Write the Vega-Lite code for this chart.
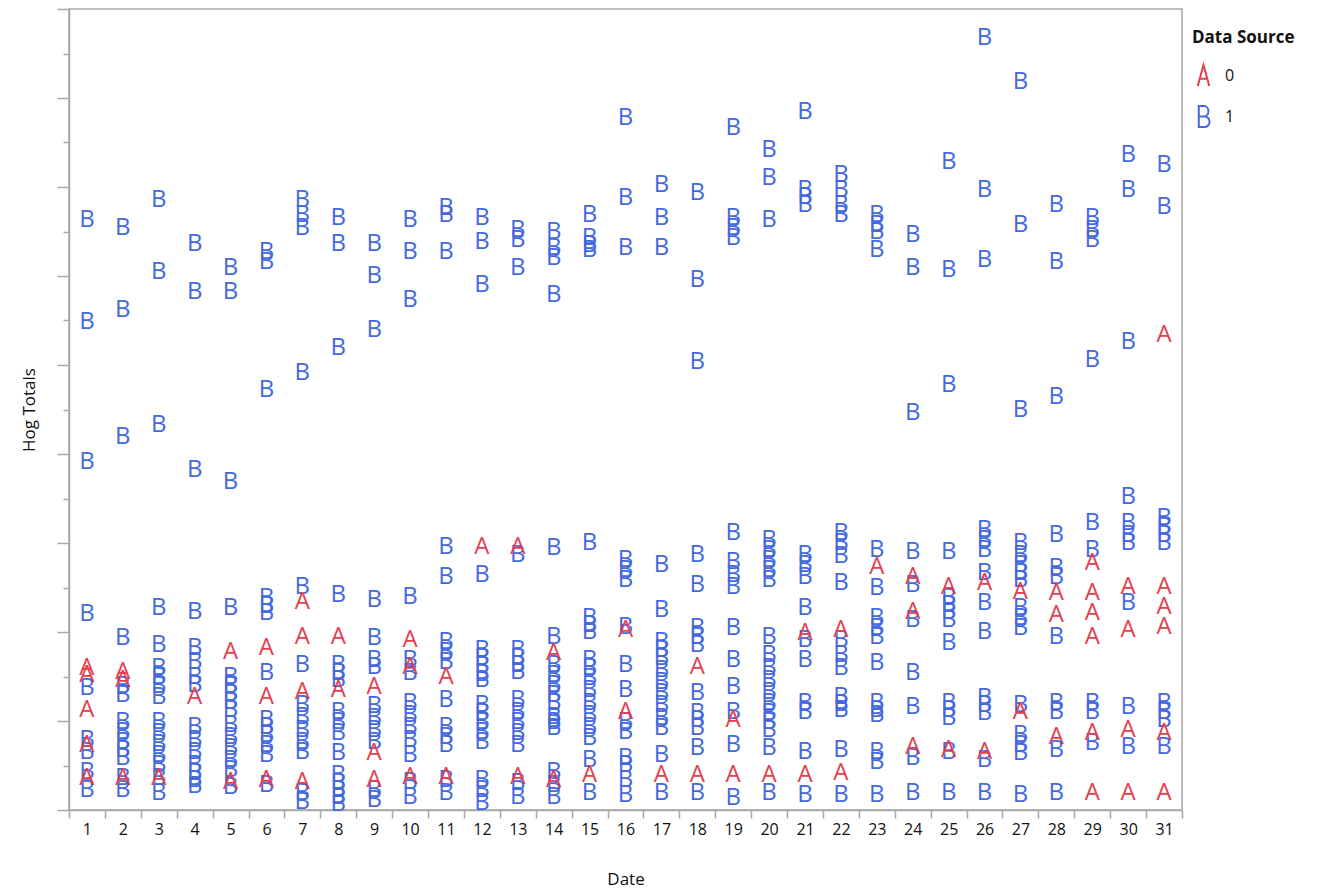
{
  "$schema": "https://vega.github.io/schema/vega-lite/v6.json",
  "width": 1113,
  "height": 801,
  "autosize": {"type": "none"},
  "padding": {"left": 69, "top": 9, "right": 160, "bottom": 80},
  "background": "white",
  "config": {
    "view": {"stroke": "#A8A8A8", "strokeWidth": 1.5},
    "axis": {"domainColor": "#A8A8A8", "domainWidth": 1.5, "tickColor": "#A8A8A8", "tickWidth": 1.5, "grid": false, "labelFont": "Open Sans", "titleFont": "Open Sans", "labelColor": "#111111", "titleColor": "#111111", "titleFontWeight": "normal"}
  },
  "data": {"values": [
    {"d":1,"s":1,"h":590},{"d":1,"s":1,"h":488},{"d":1,"s":1,"h":348},{"d":1,"s":1,"h":196},{"d":1,"s":1,"h":122},{"d":1,"s":1,"h":70},{"d":1,"s":1,"h":58},{"d":1,"s":1,"h":38},{"d":1,"s":1,"h":20},
    {"d":1,"s":0,"h":142},{"d":1,"s":0,"h":135},{"d":1,"s":0,"h":100},{"d":1,"s":0,"h":65},{"d":1,"s":0,"h":32},
    {"d":2,"s":1,"h":582},{"d":2,"s":1,"h":500},{"d":2,"s":1,"h":373},{"d":2,"s":1,"h":172},{"d":2,"s":1,"h":124},{"d":2,"s":1,"h":115},{"d":2,"s":1,"h":88},{"d":2,"s":1,"h":78},{"d":2,"s":1,"h":68},{"d":2,"s":1,"h":60},{"d":2,"s":1,"h":52},{"d":2,"s":1,"h":32},{"d":2,"s":1,"h":20},
    {"d":2,"s":0,"h":138},{"d":2,"s":0,"h":130},{"d":2,"s":0,"h":32},
    {"d":3,"s":1,"h":610},{"d":3,"s":1,"h":538},{"d":3,"s":1,"h":385},{"d":3,"s":1,"h":202},{"d":3,"s":1,"h":165},{"d":3,"s":1,"h":142},{"d":3,"s":1,"h":133},{"d":3,"s":1,"h":124},{"d":3,"s":1,"h":113},{"d":3,"s":1,"h":88},{"d":3,"s":1,"h":77},{"d":3,"s":1,"h":66},{"d":3,"s":1,"h":55},{"d":3,"s":1,"h":45},{"d":3,"s":1,"h":32},{"d":3,"s":1,"h":17},
    {"d":3,"s":0,"h":32},
    {"d":4,"s":1,"h":566},{"d":4,"s":1,"h":518},{"d":4,"s":1,"h":340},{"d":4,"s":1,"h":198},{"d":4,"s":1,"h":162},{"d":4,"s":1,"h":148},{"d":4,"s":1,"h":133},{"d":4,"s":1,"h":125},{"d":4,"s":1,"h":83},{"d":4,"s":1,"h":70},{"d":4,"s":1,"h":58},{"d":4,"s":1,"h":45},{"d":4,"s":1,"h":37},{"d":4,"s":1,"h":30},{"d":4,"s":1,"h":24},
    {"d":4,"s":0,"h":113},
    {"d":5,"s":1,"h":542},{"d":5,"s":1,"h":518},{"d":5,"s":1,"h":328},{"d":5,"s":1,"h":202},{"d":5,"s":1,"h":133},{"d":5,"s":1,"h":124},{"d":5,"s":1,"h":116},{"d":5,"s":1,"h":108},{"d":5,"s":1,"h":100},{"d":5,"s":1,"h":85},{"d":5,"s":1,"h":73},{"d":5,"s":1,"h":62},{"d":5,"s":1,"h":50},{"d":5,"s":1,"h":40},{"d":5,"s":1,"h":23},
    {"d":5,"s":0,"h":158},{"d":5,"s":0,"h":28},
    {"d":6,"s":1,"h":558},{"d":6,"s":1,"h":548},{"d":6,"s":1,"h":420},{"d":6,"s":1,"h":212},{"d":6,"s":1,"h":204},{"d":6,"s":1,"h":197},{"d":6,"s":1,"h":137},{"d":6,"s":1,"h":90},{"d":6,"s":1,"h":83},{"d":6,"s":1,"h":75},{"d":6,"s":1,"h":65},{"d":6,"s":1,"h":55},{"d":6,"s":1,"h":25},
    {"d":6,"s":0,"h":162},{"d":6,"s":0,"h":113},{"d":6,"s":0,"h":30},
    {"d":7,"s":1,"h":610},{"d":7,"s":1,"h":595},{"d":7,"s":1,"h":582},{"d":7,"s":1,"h":437},{"d":7,"s":1,"h":223},{"d":7,"s":1,"h":145},{"d":7,"s":1,"h":105},{"d":7,"s":1,"h":93},{"d":7,"s":1,"h":80},{"d":7,"s":1,"h":68},{"d":7,"s":1,"h":58},{"d":7,"s":1,"h":17},{"d":7,"s":1,"h":8},
    {"d":7,"s":0,"h":208},{"d":7,"s":0,"h":173},{"d":7,"s":0,"h":118},{"d":7,"s":0,"h":28},
    {"d":8,"s":1,"h":592},{"d":8,"s":1,"h":566},{"d":8,"s":1,"h":462},{"d":8,"s":1,"h":215},{"d":8,"s":1,"h":145},{"d":8,"s":1,"h":137},{"d":8,"s":1,"h":130},{"d":8,"s":1,"h":98},{"d":8,"s":1,"h":88},{"d":8,"s":1,"h":77},{"d":8,"s":1,"h":57},{"d":8,"s":1,"h":35},{"d":8,"s":1,"h":27},{"d":8,"s":1,"h":20},{"d":8,"s":1,"h":13},{"d":8,"s":1,"h":6},
    {"d":8,"s":0,"h":173},{"d":8,"s":0,"h":120},
    {"d":9,"s":1,"h":566},{"d":9,"s":1,"h":534},{"d":9,"s":1,"h":480},{"d":9,"s":1,"h":210},{"d":9,"s":1,"h":172},{"d":9,"s":1,"h":150},{"d":9,"s":1,"h":143},{"d":9,"s":1,"h":104},{"d":9,"s":1,"h":92},{"d":9,"s":1,"h":80},{"d":9,"s":1,"h":68},{"d":9,"s":1,"h":20},{"d":9,"s":1,"h":10},
    {"d":9,"s":0,"h":123},{"d":9,"s":0,"h":57},{"d":9,"s":0,"h":30},
    {"d":10,"s":1,"h":590},{"d":10,"s":1,"h":558},{"d":10,"s":1,"h":510},{"d":10,"s":1,"h":213},{"d":10,"s":1,"h":150},{"d":10,"s":1,"h":137},{"d":10,"s":1,"h":107},{"d":10,"s":1,"h":95},{"d":10,"s":1,"h":83},{"d":10,"s":1,"h":70},{"d":10,"s":1,"h":55},{"d":10,"s":1,"h":28},{"d":10,"s":1,"h":13},
    {"d":10,"s":0,"h":170},{"d":10,"s":0,"h":143},{"d":10,"s":0,"h":33},
    {"d":11,"s":1,"h":602},{"d":11,"s":1,"h":595},{"d":11,"s":1,"h":558},{"d":11,"s":1,"h":263},{"d":11,"s":1,"h":233},{"d":11,"s":1,"h":168},{"d":11,"s":1,"h":158},{"d":11,"s":1,"h":148},{"d":11,"s":1,"h":110},{"d":11,"s":1,"h":83},{"d":11,"s":1,"h":73},{"d":11,"s":1,"h":65},{"d":11,"s":1,"h":30},{"d":11,"s":1,"h":17},
    {"d":11,"s":0,"h":133},{"d":11,"s":0,"h":33},
    {"d":12,"s":1,"h":592},{"d":12,"s":1,"h":568},{"d":12,"s":1,"h":525},{"d":12,"s":1,"h":235},{"d":12,"s":1,"h":160},{"d":12,"s":1,"h":152},{"d":12,"s":1,"h":144},{"d":12,"s":1,"h":136},{"d":12,"s":1,"h":130},{"d":12,"s":1,"h":105},{"d":12,"s":1,"h":97},{"d":12,"s":1,"h":88},{"d":12,"s":1,"h":78},{"d":12,"s":1,"h":68},{"d":12,"s":1,"h":30},{"d":12,"s":1,"h":20},{"d":12,"s":1,"h":7},
    {"d":12,"s":0,"h":263},
    {"d":13,"s":1,"h":580},{"d":13,"s":1,"h":570},{"d":13,"s":1,"h":542},{"d":13,"s":1,"h":255},{"d":13,"s":1,"h":160},{"d":13,"s":1,"h":152},{"d":13,"s":1,"h":145},{"d":13,"s":1,"h":138},{"d":13,"s":1,"h":110},{"d":13,"s":1,"h":98},{"d":13,"s":1,"h":88},{"d":13,"s":1,"h":77},{"d":13,"s":1,"h":65},{"d":13,"s":1,"h":27},{"d":13,"s":1,"h":13},
    {"d":13,"s":0,"h":263},{"d":13,"s":0,"h":33},
    {"d":14,"s":1,"h":578},{"d":14,"s":1,"h":562},{"d":14,"s":1,"h":552},{"d":14,"s":1,"h":515},{"d":14,"s":1,"h":262},{"d":14,"s":1,"h":173},{"d":14,"s":1,"h":145},{"d":14,"s":1,"h":135},{"d":14,"s":1,"h":125},{"d":14,"s":1,"h":115},{"d":14,"s":1,"h":107},{"d":14,"s":1,"h":93},{"d":14,"s":1,"h":88},{"d":14,"s":1,"h":82},{"d":14,"s":1,"h":38},{"d":14,"s":1,"h":25},{"d":14,"s":1,"h":13},
    {"d":14,"s":0,"h":157},{"d":14,"s":0,"h":30},
    {"d":15,"s":1,"h":595},{"d":15,"s":1,"h":572},{"d":15,"s":1,"h":565},{"d":15,"s":1,"h":560},{"d":15,"s":1,"h":267},{"d":15,"s":1,"h":192},{"d":15,"s":1,"h":185},{"d":15,"s":1,"h":178},{"d":15,"s":1,"h":150},{"d":15,"s":1,"h":142},{"d":15,"s":1,"h":132},{"d":15,"s":1,"h":120},{"d":15,"s":1,"h":107},{"d":15,"s":1,"h":95},{"d":15,"s":1,"h":83},{"d":15,"s":1,"h":72},{"d":15,"s":1,"h":50},{"d":15,"s":1,"h":17},
    {"d":15,"s":0,"h":35},
    {"d":16,"s":1,"h":692},{"d":16,"s":1,"h":612},{"d":16,"s":1,"h":562},{"d":16,"s":1,"h":250},{"d":16,"s":1,"h":240},{"d":16,"s":1,"h":230},{"d":16,"s":1,"h":183},{"d":16,"s":1,"h":145},{"d":16,"s":1,"h":120},{"d":16,"s":1,"h":88},{"d":16,"s":1,"h":78},{"d":16,"s":1,"h":52},{"d":16,"s":1,"h":45},{"d":16,"s":1,"h":30},{"d":16,"s":1,"h":15},
    {"d":16,"s":0,"h":180},{"d":16,"s":0,"h":98},
    {"d":17,"s":1,"h":625},{"d":17,"s":1,"h":592},{"d":17,"s":1,"h":562},{"d":17,"s":1,"h":245},{"d":17,"s":1,"h":200},{"d":17,"s":1,"h":168},{"d":17,"s":1,"h":160},{"d":17,"s":1,"h":152},{"d":17,"s":1,"h":140},{"d":17,"s":1,"h":128},{"d":17,"s":1,"h":117},{"d":17,"s":1,"h":105},{"d":17,"s":1,"h":92},{"d":17,"s":1,"h":82},{"d":17,"s":1,"h":55},{"d":17,"s":1,"h":17},
    {"d":17,"s":0,"h":35},
    {"d":18,"s":1,"h":617},{"d":18,"s":1,"h":530},{"d":18,"s":1,"h":448},{"d":18,"s":1,"h":255},{"d":18,"s":1,"h":225},{"d":18,"s":1,"h":182},{"d":18,"s":1,"h":173},{"d":18,"s":1,"h":165},{"d":18,"s":1,"h":117},{"d":18,"s":1,"h":97},{"d":18,"s":1,"h":90},{"d":18,"s":1,"h":82},{"d":18,"s":1,"h":62},{"d":18,"s":1,"h":17},
    {"d":18,"s":0,"h":143},{"d":18,"s":0,"h":35},
    {"d":19,"s":1,"h":682},{"d":19,"s":1,"h":592},{"d":19,"s":1,"h":582},{"d":19,"s":1,"h":572},{"d":19,"s":1,"h":277},{"d":19,"s":1,"h":248},{"d":19,"s":1,"h":235},{"d":19,"s":1,"h":223},{"d":19,"s":1,"h":182},{"d":19,"s":1,"h":150},{"d":19,"s":1,"h":123},{"d":19,"s":1,"h":98},{"d":19,"s":1,"h":65},{"d":19,"s":1,"h":12},
    {"d":19,"s":0,"h":90},{"d":19,"s":0,"h":35},
    {"d":20,"s":1,"h":660},{"d":20,"s":1,"h":632},{"d":20,"s":1,"h":590},{"d":20,"s":1,"h":270},{"d":20,"s":1,"h":260},{"d":20,"s":1,"h":250},{"d":20,"s":1,"h":240},{"d":20,"s":1,"h":230},{"d":20,"s":1,"h":173},{"d":20,"s":1,"h":155},{"d":20,"s":1,"h":142},{"d":20,"s":1,"h":130},{"d":20,"s":1,"h":118},{"d":20,"s":1,"h":107},{"d":20,"s":1,"h":97},{"d":20,"s":1,"h":88},{"d":20,"s":1,"h":80},{"d":20,"s":1,"h":62},{"d":20,"s":1,"h":17},
    {"d":20,"s":0,"h":35},
    {"d":21,"s":1,"h":698},{"d":21,"s":1,"h":620},{"d":21,"s":1,"h":613},{"d":21,"s":1,"h":605},{"d":21,"s":1,"h":255},{"d":21,"s":1,"h":245},{"d":21,"s":1,"h":233},{"d":21,"s":1,"h":202},{"d":21,"s":1,"h":170},{"d":21,"s":1,"h":150},{"d":21,"s":1,"h":107},{"d":21,"s":1,"h":98},{"d":21,"s":1,"h":58},{"d":21,"s":1,"h":15},
    {"d":21,"s":0,"h":177},{"d":21,"s":0,"h":35},
    {"d":22,"s":1,"h":635},{"d":22,"s":1,"h":620},{"d":22,"s":1,"h":605},{"d":22,"s":1,"h":595},{"d":22,"s":1,"h":277},{"d":22,"s":1,"h":267},{"d":22,"s":1,"h":254},{"d":22,"s":1,"h":227},{"d":22,"s":1,"h":170},{"d":22,"s":1,"h":155},{"d":22,"s":1,"h":142},{"d":22,"s":1,"h":113},{"d":22,"s":1,"h":106},{"d":22,"s":1,"h":100},{"d":22,"s":1,"h":60},{"d":22,"s":1,"h":15},
    {"d":22,"s":0,"h":180},{"d":22,"s":0,"h":37},
    {"d":23,"s":1,"h":595},{"d":23,"s":1,"h":585},{"d":23,"s":1,"h":578},{"d":23,"s":1,"h":560},{"d":23,"s":1,"h":260},{"d":23,"s":1,"h":222},{"d":23,"s":1,"h":192},{"d":23,"s":1,"h":182},{"d":23,"s":1,"h":173},{"d":23,"s":1,"h":147},{"d":23,"s":1,"h":107},{"d":23,"s":1,"h":100},{"d":23,"s":1,"h":95},{"d":23,"s":1,"h":58},{"d":23,"s":1,"h":48},{"d":23,"s":1,"h":15},
    {"d":23,"s":0,"h":243},
    {"d":24,"s":1,"h":575},{"d":24,"s":1,"h":542},{"d":24,"s":1,"h":397},{"d":24,"s":1,"h":258},{"d":24,"s":1,"h":225},{"d":24,"s":1,"h":190},{"d":24,"s":1,"h":137},{"d":24,"s":1,"h":103},{"d":24,"s":1,"h":52},{"d":24,"s":1,"h":17},
    {"d":24,"s":0,"h":233},{"d":24,"s":0,"h":198},{"d":24,"s":0,"h":63},
    {"d":25,"s":1,"h":648},{"d":25,"s":1,"h":540},{"d":25,"s":1,"h":425},{"d":25,"s":1,"h":258},{"d":25,"s":1,"h":212},{"d":25,"s":1,"h":205},{"d":25,"s":1,"h":198},{"d":25,"s":1,"h":190},{"d":25,"s":1,"h":167},{"d":25,"s":1,"h":107},{"d":25,"s":1,"h":100},{"d":25,"s":1,"h":92},{"d":25,"s":1,"h":58},{"d":25,"s":1,"h":17},
    {"d":25,"s":0,"h":223},{"d":25,"s":0,"h":60},
    {"d":26,"s":1,"h":772},{"d":26,"s":1,"h":620},{"d":26,"s":1,"h":550},{"d":26,"s":1,"h":280},{"d":26,"s":1,"h":270},{"d":26,"s":1,"h":260},{"d":26,"s":1,"h":237},{"d":26,"s":1,"h":207},{"d":26,"s":1,"h":178},{"d":26,"s":1,"h":112},{"d":26,"s":1,"h":105},{"d":26,"s":1,"h":97},{"d":26,"s":1,"h":50},{"d":26,"s":1,"h":17},
    {"d":26,"s":0,"h":227},{"d":26,"s":0,"h":58},
    {"d":27,"s":1,"h":728},{"d":27,"s":1,"h":585},{"d":27,"s":1,"h":400},{"d":27,"s":1,"h":267},{"d":27,"s":1,"h":255},{"d":27,"s":1,"h":245},{"d":27,"s":1,"h":237},{"d":27,"s":1,"h":230},{"d":27,"s":1,"h":202},{"d":27,"s":1,"h":192},{"d":27,"s":1,"h":182},{"d":27,"s":1,"h":105},{"d":27,"s":1,"h":75},{"d":27,"s":1,"h":65},{"d":27,"s":1,"h":57},{"d":27,"s":1,"h":15},
    {"d":27,"s":0,"h":218},{"d":27,"s":0,"h":98},
    {"d":28,"s":1,"h":605},{"d":28,"s":1,"h":548},{"d":28,"s":1,"h":413},{"d":28,"s":1,"h":275},{"d":28,"s":1,"h":242},{"d":28,"s":1,"h":233},{"d":28,"s":1,"h":173},{"d":28,"s":1,"h":107},{"d":28,"s":1,"h":98},{"d":28,"s":1,"h":60},{"d":28,"s":1,"h":17},
    {"d":28,"s":0,"h":217},{"d":28,"s":0,"h":195},{"d":28,"s":0,"h":73},
    {"d":29,"s":1,"h":592},{"d":29,"s":1,"h":580},{"d":29,"s":1,"h":570},{"d":29,"s":1,"h":450},{"d":29,"s":1,"h":287},{"d":29,"s":1,"h":260},{"d":29,"s":1,"h":107},{"d":29,"s":1,"h":98},{"d":29,"s":1,"h":67},
    {"d":29,"s":0,"h":247},{"d":29,"s":0,"h":217},{"d":29,"s":0,"h":197},{"d":29,"s":0,"h":173},{"d":29,"s":0,"h":77},{"d":29,"s":0,"h":17},
    {"d":30,"s":1,"h":655},{"d":30,"s":1,"h":620},{"d":30,"s":1,"h":468},{"d":30,"s":1,"h":313},{"d":30,"s":1,"h":287},{"d":30,"s":1,"h":275},{"d":30,"s":1,"h":267},{"d":30,"s":1,"h":207},{"d":30,"s":1,"h":103},{"d":30,"s":1,"h":63},
    {"d":30,"s":0,"h":223},{"d":30,"s":0,"h":180},{"d":30,"s":0,"h":80},{"d":30,"s":0,"h":17},
    {"d":31,"s":1,"h":645},{"d":31,"s":1,"h":603},{"d":31,"s":1,"h":292},{"d":31,"s":1,"h":283},{"d":31,"s":1,"h":275},{"d":31,"s":1,"h":267},{"d":31,"s":1,"h":107},{"d":31,"s":1,"h":98},{"d":31,"s":1,"h":90},{"d":31,"s":1,"h":63},
    {"d":31,"s":0,"h":475},{"d":31,"s":0,"h":223},{"d":31,"s":0,"h":203},{"d":31,"s":0,"h":183},{"d":31,"s":0,"h":77},{"d":31,"s":0,"h":17}
  ]},
  "encoding": {
    "x": {"field": "d", "type": "ordinal", "title": "Date",
      "scale": {"paddingInner": 0, "paddingOuter": 0},
      "axis": {"labelAngle": 0, "tickBand": "extent", "tickSize": 8, "labelFontSize": 16, "labelPadding": 3, "titleFontSize": 17, "titlePadding": 34}},
    "y": {"field": "h", "type": "quantitative", "title": "Hog Totals",
      "scale": {"domain": [0, 801], "nice": false, "zero": true},
      "axis": {"labels": false,
        "values": [0,44.5,89,133.5,178,222.5,267,311.5,356,400.5,445,489.5,534,578.5,623,667.5,712,756.5,801],
        "tickSize": {"condition": {"test": "datum.value % 89 === 0", "value": 12}, "value": 6},
        "titleFontSize": 17, "titlePadding": 18}}
  },
  "layer": [
    {
      "mark": {"type": "text", "font": "Open Sans", "fontSize": 24, "fontWeight": "normal", "baseline": "middle", "align": "center"},
      "encoding": {
        "color": {"condition": {"test": "datum.s === 0", "value": "#E2404F"}, "value": "#4468E0"},
        "text": {"condition": {"test": "datum.s === 0", "value": "A"}, "value": "B"}
      }
    },
    {
      "mark": {"type": "point", "filled": false, "opacity": 0, "size": 440, "strokeWidth": 2},
      "encoding": {
        "color": {"field": "s", "type": "nominal", "title": "Data Source",
          "scale": {"domain": [0, 1], "range": ["#E2404F", "#4468E0"]},
          "legend": {"titleFontSize": 17, "titleFont": "Open Sans", "titleFontWeight": "bold", "titleColor": "#111111", "labelFontSize": 16, "labelFont": "Open Sans", "labelColor": "#111111", "symbolSize": 440, "symbolStrokeWidth": 2, "rowPadding": 12, "labelOffset": 10, "titlePadding": 17, "offset": -11, "padding": 21, "symbolOpacity": 1,
            "encode": {"symbols": {"update": {"opacity": {"value": 1}, "fill": {"value": "transparent"}, "strokeWidth": {"value": 2}}}}}},
        "shape": {"field": "s", "type": "nominal", "title": "Data Source",
          "scale": {"domain": [0, 1], "range": [
            "M -0.55 1 L 0 -1 L 0.55 1 M -0.33 0.3 L 0.33 0.3",
            "M -0.45 0 L 0.05 0 A 0.42 0.5 0 0 0 0.05 -1 L -0.45 -1 L -0.45 1 L 0.1 1 A 0.48 0.5 0 0 0 0.1 0 L 0.05 0"
          ]}}
      }
    }
  ]
}
